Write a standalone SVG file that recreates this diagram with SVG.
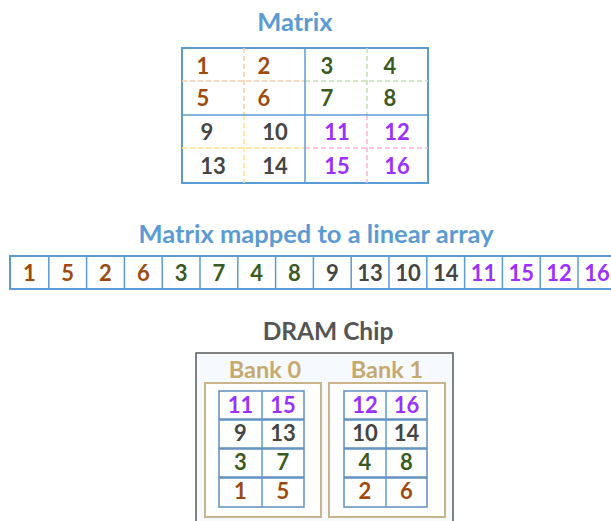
<svg xmlns="http://www.w3.org/2000/svg" width="611" height="521" viewBox="0 0 611 521">
<style>
text{font-family:Lato,"Open Sans","Liberation Sans",sans-serif;font-weight:bold;text-anchor:middle}
.t{font-size:25.5px;fill:#5b9bd5}
.n{font-size:22px}
.br{fill:#9e4a0e}.gr{fill:#3b5a21}.gy{fill:#454545}.pu{fill:#9b30ff}
.grid{fill:#fff;stroke:#5b9bd5;stroke-width:2}
.gl{stroke:#5b9bd5;stroke-width:1.5;fill:none}
.d{stroke-width:1.5;stroke-dasharray:5 3;fill:none}
.bank{fill:#fff;stroke:#c9b38a;stroke-width:2}
.bl{font-size:23.5px;fill:#c7a96f}
.cell{fill:#fff;stroke:#5f8fbf;stroke-width:1.5}
</style>
<g id="matrix">
<text class="t" x="295" y="31">Matrix</text>
<rect class="grid" x="182" y="48" width="246" height="135"/>
<g class="d">
<line x1="182" y1="81" x2="305" y2="81" stroke="#f8cbad"/>
<line x1="305" y1="81" x2="428" y2="81" stroke="#c5e0b4"/>
<line x1="182" y1="148" x2="305" y2="148" stroke="#ffe18a"/>
<line x1="305" y1="148" x2="428" y2="148" stroke="#ffb3d9"/>
<line x1="244" y1="48" x2="244" y2="115" stroke="#f8cbad"/>
<line x1="244" y1="115" x2="244" y2="183" stroke="#ffe18a"/>
<line x1="367" y1="48" x2="367" y2="115" stroke="#c5e0b4"/>
<line x1="367" y1="115" x2="367" y2="183" stroke="#ffb3d9"/>
</g>
<line class="gl" x1="305" y1="48" x2="305" y2="183"/>
<line class="gl" x1="182" y1="115" x2="428" y2="115"/>
<text class="n br" x="203" y="74">1</text><text class="n br" x="264" y="74">2</text><text class="n gr" x="327" y="74">3</text><text class="n gr" x="390" y="74">4</text>
<text class="n br" x="203" y="106">5</text><text class="n br" x="264" y="106">6</text><text class="n gr" x="327" y="106">7</text><text class="n gr" x="390" y="106">8</text>
<text class="n gy" x="207" y="140">9</text><text class="n gy" x="275" y="140">10</text><text class="n pu" x="337" y="140">11</text><text class="n pu" x="397" y="140">12</text>
<text class="n gy" x="213" y="174">13</text><text class="n gy" x="275" y="174">14</text><text class="n pu" x="337" y="174">15</text><text class="n pu" x="397" y="174">16</text>
</g>
<g id="linear-array">
<text class="t" x="316" y="243">Matrix mapped to a linear array</text>
<rect class="grid" x="10" y="256" width="605" height="33"/>
<g class="gl">
<line x1="48.8" y1="256" x2="48.8" y2="289"/><line x1="86.6" y1="256" x2="86.6" y2="289"/><line x1="124.4" y1="256" x2="124.4" y2="289"/><line x1="162.2" y1="256" x2="162.2" y2="289"/>
<line x1="200" y1="256" x2="200" y2="289"/><line x1="237.8" y1="256" x2="237.8" y2="289"/><line x1="275.6" y1="256" x2="275.6" y2="289"/><line x1="313.4" y1="256" x2="313.4" y2="289"/>
<line x1="351.2" y1="256" x2="351.2" y2="289"/><line x1="389" y1="256" x2="389" y2="289"/><line x1="426.8" y1="256" x2="426.8" y2="289"/><line x1="464.6" y1="256" x2="464.6" y2="289"/>
<line x1="502.4" y1="256" x2="502.4" y2="289"/><line x1="540.2" y1="256" x2="540.2" y2="289"/><line x1="578" y1="256" x2="578" y2="289"/>
</g>
<text class="n br" x="29.4" y="281">1</text><text class="n br" x="67.7" y="281">5</text><text class="n br" x="105.5" y="281">2</text><text class="n br" x="143.3" y="281">6</text>
<text class="n gr" x="181.1" y="281">3</text><text class="n gr" x="218.9" y="281">7</text><text class="n gr" x="256.7" y="281">4</text><text class="n gr" x="294.5" y="281">8</text>
<text class="n gy" x="332.3" y="281">9</text><text class="n gy" x="370.1" y="281">13</text><text class="n gy" x="407.9" y="281">10</text><text class="n gy" x="445.7" y="281">14</text>
<text class="n pu" x="483.5" y="281">11</text><text class="n pu" x="521.3" y="281">15</text><text class="n pu" x="559.1" y="281">12</text><text class="n pu" x="596.9" y="281">16</text>
</g>
<g id="dram-chip">
<text x="328" y="340" style="font-size:24.5px;fill:#555">DRAM Chip</text>
<rect x="196" y="353" width="257" height="185" fill="#f6f9fd" stroke="#5a5a5a" stroke-width="1.5"/>
</g>
<g id="bank-0">
<text class="bl" x="265" y="378">Bank 0</text>
<rect class="bank" x="205" y="383" width="116" height="134"/>
<rect class="cell" x="219" y="391" width="85" height="28"/>
<rect class="cell" x="219" y="420" width="85" height="28"/>
<rect class="cell" x="219" y="449" width="85" height="28"/>
<rect class="cell" x="219" y="478" width="85" height="29"/>
<line class="gl" x1="262" y1="391" x2="262" y2="507" stroke="#5f8fbf"/>
<text class="n pu" x="240.5" y="413">11</text><text class="n pu" x="283" y="413">15</text>
<text class="n gy" x="240.5" y="441">9</text><text class="n gy" x="283" y="441">13</text>
<text class="n gr" x="240.5" y="470">3</text><text class="n gr" x="283" y="470">7</text>
<text class="n br" x="240.5" y="499">1</text><text class="n br" x="283" y="499">5</text>
</g>
<g id="bank-1">
<text class="bl" x="387" y="378">Bank 1</text>
<rect class="bank" x="329" y="383" width="116" height="134"/>
<rect class="cell" x="344" y="391" width="83" height="28"/>
<rect class="cell" x="344" y="420" width="83" height="28"/>
<rect class="cell" x="344" y="449" width="83" height="28"/>
<rect class="cell" x="344" y="478" width="83" height="29"/>
<line class="gl" x1="386" y1="391" x2="386" y2="507" stroke="#5f8fbf"/>
<text class="n pu" x="365" y="413">12</text><text class="n pu" x="406.5" y="413">16</text>
<text class="n gy" x="365" y="441">10</text><text class="n gy" x="406.5" y="441">14</text>
<text class="n gr" x="365" y="470">4</text><text class="n gr" x="406.5" y="470">8</text>
<text class="n br" x="365" y="499">2</text><text class="n br" x="406.5" y="499">6</text>
</g>
<g id="connectors"/>
</svg>
